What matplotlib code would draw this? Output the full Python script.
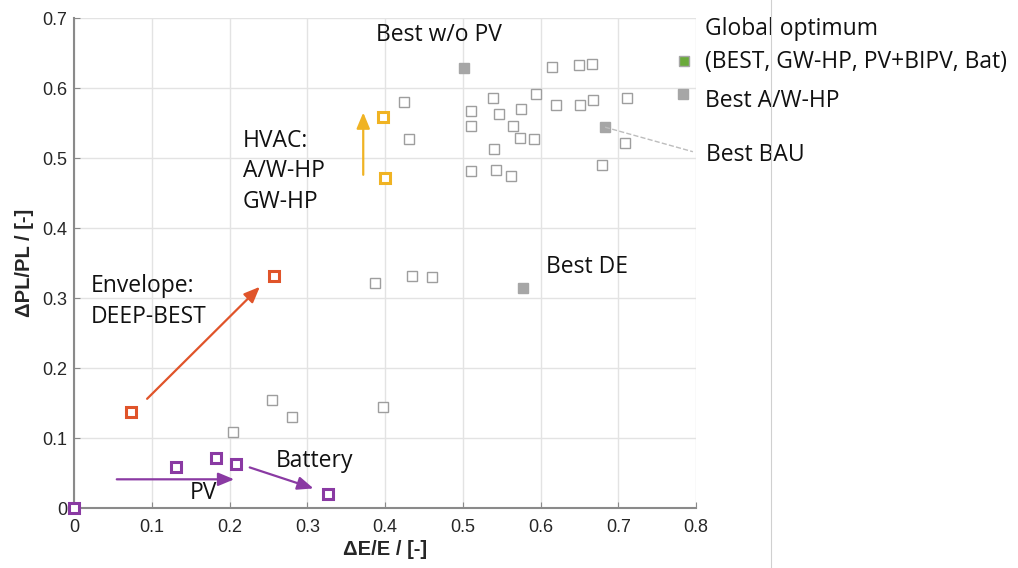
import numpy as np
from matplotlib import pyplot as plt
from matplotlib.lines import Line2D

# other (grey open) variants
grey_x = [0.424, 0.431, 0.510, 0.510, 0.510, 0.539, 0.546, 0.575, 0.594, 0.565, 0.573, 0.592,
          0.540, 0.543, 0.562, 0.615, 0.650, 0.666, 0.620, 0.651, 0.667, 0.711, 0.709, 0.679,
          0.387, 0.435, 0.461, 0.255, 0.280, 0.204, 0.398]
grey_y = [0.580, 0.527, 0.567, 0.546, 0.481, 0.586, 0.563, 0.570, 0.591, 0.546, 0.529, 0.527,
          0.513, 0.483, 0.474, 0.630, 0.633, 0.634, 0.576, 0.576, 0.583, 0.586, 0.521, 0.490,
          0.321, 0.331, 0.330, 0.154, 0.130, 0.108, 0.145]

# best cases (filled grey)
best_x = [0.502, 0.783, 0.683, 0.577]
best_y = [0.629, 0.591, 0.544, 0.315]

glob_x = [0.784]
glob_y = [0.638]

hvac_x = [0.397, 0.400]
hvac_y = [0.558, 0.472]

env_x = [0.073, 0.257]
env_y = [0.137, 0.331]

pv_x = [0.0, 0.131, 0.182, 0.208, 0.327]
pv_y = [0.0, 0.059, 0.072, 0.063, 0.020]

fig = plt.figure(figsize=(10.18, 5.68), dpi=100)
ax = fig.add_axes([0.0727, 0.1056, 0.611, 0.8627])

tick_font = 'Liberation Sans'
lab_font = 'Open Sans'

ax.set_xlim(0, 0.8)
ax.set_ylim(0, 0.7)
ax.set_xticks(np.arange(0, 0.81, 0.1))
ax.set_yticks(np.arange(0, 0.71, 0.1))
ax.set_xticklabels(['0', '0.1', '0.2', '0.3', '0.4', '0.5', '0.6', '0.7', '0.8'], fontfamily=tick_font, fontsize=13)
ax.set_yticklabels(['0', '0.1', '0.2', '0.3', '0.4', '0.5', '0.6', '0.7'], fontfamily=tick_font, fontsize=13)
ax.grid(True, color='#e3e3e3', linewidth=1)
ax.set_axisbelow(True)
for s in ['top', 'right']:
    ax.spines[s].set_visible(False)
for s in ['left', 'bottom']:
    ax.spines[s].set_color('#8a8a8a')
    ax.spines[s].set_linewidth(1.5)
ax.tick_params(direction='in', length=4, color='#8a8a8a', labelcolor='#262626', pad=5)
ax.tick_params(axis='x', pad=8)
ax.set_xlabel('ΔE/E / [-]', fontfamily=tick_font, fontsize=14.5, fontweight='bold', color='#262626', labelpad=3)
ax.set_ylabel('ΔPL/PL / [-]', fontfamily=tick_font, fontsize=14.5, fontweight='bold', color='#262626', labelpad=6)

ax.plot(grey_x, grey_y, 's', ms=6.5, mfc='white', mec='#9e9e9e', mew=1.0, ls='none', clip_on=False)
ax.plot(best_x, best_y, 's', ms=7.0, mfc='#a6a6a6', mec='#a6a6a6', mew=1.0, ls='none', clip_on=False)
ax.plot(glob_x, glob_y, 's', ms=7.0, mfc='#6aaa3a', mec='#a6a6a6', mew=1.0, ls='none', clip_on=False)
ax.plot(hvac_x, hvac_y, 's', ms=6.5, mfc='white', mec='#f0b323', mew=2.2, ls='none', clip_on=False)
ax.plot(env_x, env_y, 's', ms=6.5, mfc='white', mec='#e0542a', mew=2.2, ls='none', clip_on=False)
ax.plot(pv_x, pv_y, 's', ms=6.5, mfc='white', mec='#8a3aa3', mew=2.2, ls='none', clip_on=False, zorder=5)

def arrow(x0, y0, x1, y1, c):
    ax.annotate('', xy=(x1, y1), xytext=(x0, y0),
                arrowprops=dict(arrowstyle='-|>,head_length=0.6,head_width=0.25', color=c, lw=1.6,
                                mutation_scale=16, shrinkA=0, shrinkB=0))

arrow(0.372, 0.476, 0.372, 0.565, '#f0b323')
arrow(0.094, 0.156, 0.239, 0.316, '#e0542a')
arrow(0.055, 0.041, 0.206, 0.041, '#8a3aa3')
arrow(0.226, 0.058, 0.308, 0.028, '#8a3aa3')

# dashed leader for Best BAU
ax.plot([0.683, 0.796], [0.544, 0.509], ls='--', color='#bdbdbd', lw=1, clip_on=False)

kw = dict(fontfamily=lab_font, fontsize=16.5, color='#111111')
ax.text(0.389, 0.676, 'Best w/o PV', va='center', **kw)
ax.text(0.607, 0.344, 'Best DE', va='center', **kw)
ax.text(0.217, 0.481, 'HVAC:\nA/W-HP\nGW-HP', va='center', linespacing=1.35, **kw)
ax.text(0.022, 0.295, 'Envelope:\nDEEP-BEST', va='center', linespacing=1.35, **kw)
ax.text(0.259, 0.067, 'Battery', va='center', **kw)
ax.text(0.149, 0.021, 'PV', va='center', **kw)
ax.text(0.812, 0.685, 'Global optimum', va='center', clip_on=False, **kw)
ax.text(0.812, 0.637, '(BEST, GW-HP, PV+BIPV, Bat)', va='center', clip_on=False, **kw)
ax.text(0.812, 0.582, 'Best A/W-HP', va='center', clip_on=False, **kw)
ax.text(0.813, 0.504, 'Best BAU', va='center', clip_on=False, **kw)

# thin frame line on the right
fig.add_artist(Line2D([771 / 1018, 771 / 1018], [0, 1], color='#d0d0d0', lw=0.8))

fig.savefig('out.png', dpi=100)
